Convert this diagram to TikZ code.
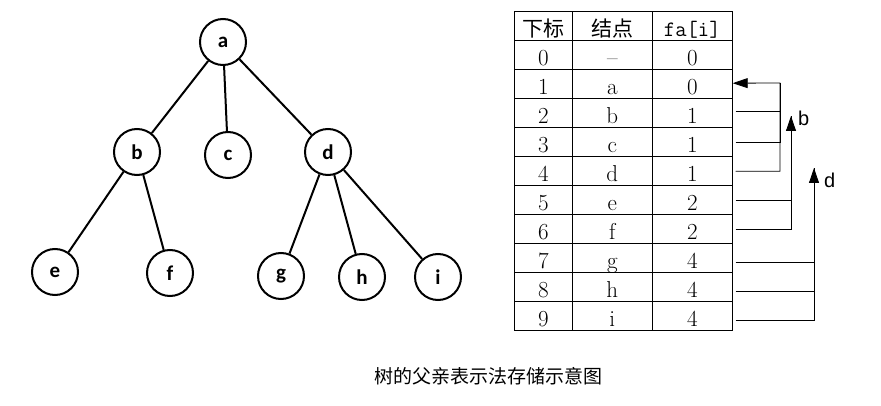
\documentclass[tikz,border=0pt]{standalone}
\usepackage{fontspec}
\newfontfamily\cjk{Noto Sans CJK SC}
\newfontfamily\calib{Carlito}
\newfontfamily\arialf{Liberation Sans}
\usepackage{tikz}
\usetikzlibrary{arrows.meta, positioning}

\begin{document}
\begin{tikzpicture}[
  x=1pt, y=-1pt,
  vert/.style  = {draw, circle, line width=2pt, minimum size=46pt, inner sep=0pt,
                  font=\calib\bfseries\fontsize{21}{21}\selectfont},
  edge/.style  = {line width=2pt},
  cell/.style  = {draw, line width=0.8pt, minimum height=29pt, inner sep=0pt,
                  text height=20pt, text depth=0pt,
                  font=\fontsize{23}{23}\selectfont},
  cellA/.style = {cell, minimum width=58pt},
  cellB/.style = {cell, minimum width=80pt},
  lbl/.style   = {inner sep=0pt, anchor=west, font=\arialf\fontsize{20}{20}\selectfont},
  link/.style  = {line width=0.8pt},
  arr/.style   = {link, -{Triangle[length=15pt, width=10pt]}}
]
\useasboundingbox (0,0) rectangle (881,406);

% tree
\node[vert] (a) at (223,42)  {a};
\node[vert] (b) at (137,152) {b};
\node[vert] (c) at (228,155) {c};
\node[vert] (d) at (328,152) {d};
\node[vert] (e) at (55,272)  {e};
\node[vert] (f) at (170,273) {f};
\node[vert] (g) at (281,276) {g};
\node[vert] (h) at (362,277) {h};
\node[vert] (i) at (438,277) {i};

\draw[edge] (a) -- (b);
\draw[edge] (a) -- (c);
\draw[edge] (a) -- (d);
\draw[edge] (b) -- (e);
\draw[edge] (b) -- (f);
\draw[edge] (d) -- (g);
\draw[edge] (d) -- (h);
\draw[edge] (d) -- (i);

% table
\node[cellA] (h1) at (543.3,26.2) {\cjk\fontsize{21}{21}\selectfont 下标};
\node[cellB] (h2) at (612.3,26.2) {\cjk\fontsize{21}{21}\selectfont 结点};
\node[cellB] (h3) at (692.3,26.2) {\ttfamily\fontsize{22}{22}\selectfont fa[i]};
\foreach \k/\n/\p in {0/--/0, 1/a/0, 2/b/1, 3/c/1, 4/d/1,
                      5/e/2, 6/f/2, 7/g/4, 8/h/4, 9/i/4} {
  \node[cellA] (x\k) at (543.3,55.2+29*\k) {\k};
  \node[cellB] (n\k) at (612.3,55.2+29*\k) {\n};
  \node[cellB] (f\k) at (692.3,55.2+29*\k) {\p};
}

% parent links
\coordinate (busA) at (780,83);
\coordinate (tipB) at (791,116);
\coordinate (tipD) at (814,168);
\node[lbl] (lb) at (798,118) {b};
\node[lbl] (ld) at (824,180) {d};

\draw[link] ([xshift=3pt,yshift=2pt]f2.east) -| (busA);
\draw[link] ([xshift=3pt]f3.east) -| (busA);
\draw[arr]  ([xshift=3pt]f4.east) -| (busA) -- ([yshift=1pt]f1.east);

\draw[link] ([xshift=3pt]f5.east) -| (tipB);
\draw[arr]  ([xshift=3pt]f6.east) -| (tipB);

\draw[link] ([xshift=3pt,yshift=-4pt]f7.east) -| (tipD);
\draw[link] ([xshift=3pt,yshift=-4pt]f8.east) -| (tipD);
\draw[arr]  ([xshift=3pt,yshift=-4pt]f9.east) -| (tipD);

% caption
\node[font=\cjk\fontsize{19}{19}\selectfont] (cap) at (488,376) {树的父亲表示法存储示意图};
\end{tikzpicture}
\end{document}
